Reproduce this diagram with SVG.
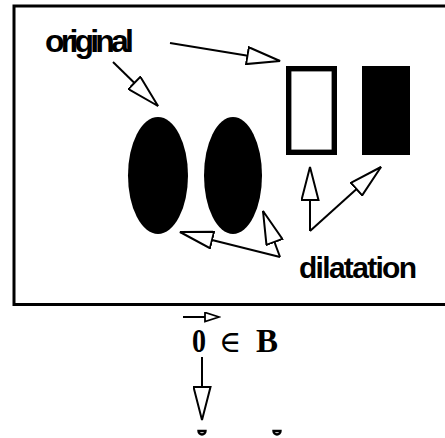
<svg xmlns="http://www.w3.org/2000/svg" width="445" height="438" viewBox="0 0 445 438">
  <style>
    .lbl { font-family: "Liberation Sans", Arial, sans-serif; font-weight: bold; fill: #000; }
    .math { font-family: "Liberation Serif", "Times New Roman", serif; font-weight: bold; fill: #000; }
    .sym { font-family: "Liberation Serif", "DejaVu Serif", serif; fill: #000; }
    .conn { stroke: #000; stroke-width: 2; fill: none; }
    .big { marker-end: url(#head); }
    .small { marker-end: url(#headSmall); }
    .dot { fill: #fff; stroke: #000; stroke-width: 2.4; }
  </style>
  <defs>
    <marker id="head" viewBox="-1 -1 36 19" refX="33" refY="8.5" markerWidth="36" markerHeight="19" markerUnits="userSpaceOnUse" orient="auto">
      <path d="M0,0 L33,8.5 L0,17 Z" fill="#fff" stroke="#000" stroke-width="2" stroke-linejoin="miter"/>
    </marker>
    <marker id="headSmall" viewBox="-1 -1 17 11" refX="14" refY="4.5" markerWidth="17" markerHeight="11" markerUnits="userSpaceOnUse" orient="auto">
      <path d="M0,0 L14,4.5 L0,9 Z" fill="#fff" stroke="#000" stroke-width="1.8"/>
    </marker>
  </defs>

  <!-- frame around the image panel -->
  <rect id="frame" x="14" y="6" width="460" height="298.5" fill="none" stroke="#000" stroke-width="3"/>

  <g id="label-original">
    <text class="lbl" x="45" y="52" font-size="32" textLength="89" lengthAdjust="spacing">original</text>
  </g>
  <g id="ellipse-original">
    <ellipse cx="158" cy="175.5" rx="30" ry="58.5" fill="#000"/>
  </g>
  <g id="ellipse-dilated">
    <ellipse cx="233" cy="175.5" rx="29" ry="58.5" fill="#000"/>
  </g>
  <g id="rect-original">
    <rect x="288.7" y="68.7" width="45.6" height="83.6" fill="#fff" stroke="#000" stroke-width="5.4"/>
  </g>
  <g id="rect-dilated">
    <rect x="362" y="66" width="48" height="89" fill="#000"/>
  </g>
  <g id="label-dilatation">
    <text class="lbl" x="299" y="278" font-size="30" textLength="118" lengthAdjust="spacing">dilatation</text>
  </g>

  <g id="formula">
    <text class="math" x="192" y="352" font-size="33" textLength="14" lengthAdjust="spacingAndGlyphs">0</text>
    <text class="sym" x="219" y="352" font-size="30">∈</text>
    <text class="math" x="256" y="352" font-size="33">B</text>
  </g>

  <g id="dot-left">
    <path class="dot" d="M198.5,431 L205.5,431 A3.5,3.5 0 0 1 198.5,431 Z"/>
  </g>
  <g id="dot-right">
    <path class="dot" d="M273.5,431 L280.5,431 A3.5,3.5 0 0 1 273.5,431 Z"/>
  </g>

  <g id="connectors">
    <line class="conn big" x1="170" y1="43" x2="280" y2="61"/>
    <line class="conn big" x1="113" y1="62" x2="158" y2="106"/>
    <line class="conn big" x1="310" y1="231" x2="310" y2="167"/>
    <line class="conn big" x1="310" y1="231" x2="381" y2="167"/>
    <line class="conn big" x1="280" y1="257" x2="263" y2="211"/>
    <line class="conn big" x1="280" y1="257" x2="180" y2="232"/>
    <line class="conn big" x1="202" y1="357" x2="202" y2="420"/>
    <line class="conn small" x1="183" y1="317" x2="219" y2="317"/>
  </g>
</svg>
